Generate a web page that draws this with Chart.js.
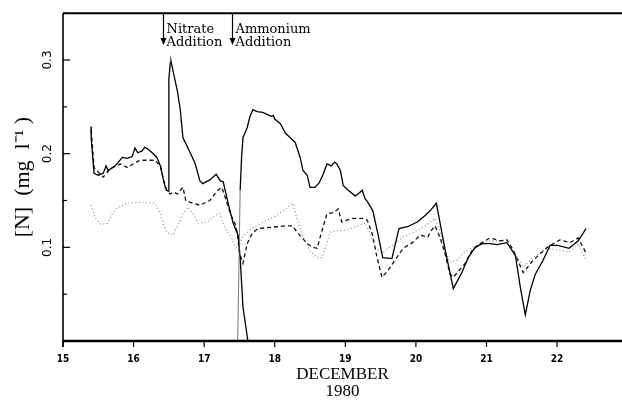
<!DOCTYPE html>
<html><head><meta charset="utf-8">
<script src="https://cdn.jsdelivr.net/npm/chart.js@4/dist/chart.umd.min.js"></script>
<style>html,body{margin:0;padding:0;background:#fff;overflow:hidden}</style>
</head><body>
<canvas id="c" width="622" height="400"></canvas>
<script>
// ---- data (days of December 1980, concentration mg/l) ----
const solidDays = [15.397,15.40,15.44,15.50,15.57,15.61,15.64,15.74,15.84,15.91,15.98,16.02,16.06,16.12,16.16,16.20,16.28,16.33,16.38,16.42,16.45,16.47,16.49,16.50,16.52,16.53,16.56,16.62,16.66,16.70,16.77,16.87,16.94,16.98,17.08,17.17,17.23,17.27,17.34,17.41,17.48,17.51,17.55,17.62,17.62,
  17.475,17.51,17.53,17.55,17.61,17.65,17.69,17.75,17.83,17.89,17.95,17.98,18.00,18.08,18.15,18.22,18.29,18.36,18.40,18.46,18.50,18.57,18.63,18.68,18.74,18.80,18.85,18.88,18.93,18.97,19.04,19.14,19.18,19.24,19.28,19.32,19.39,19.46,19.53,19.66,19.76,19.88,20.02,20.13,20.20,20.29,20.41,20.53,20.65,20.74,20.84,20.94,21.05,21.15,21.29,21.41,21.48,21.55,21.62,21.69,21.80,21.90,22.01,22.17,22.30,22.41];
const solidValues = [0.229,0.216,0.179,0.177,0.179,0.187,0.182,0.187,0.196,0.195,0.197,0.206,0.201,0.203,0.207,0.205,0.200,0.196,0.187,0.173,0.164,0.161,0.160,0.280,0.297,0.299,0.288,0.267,0.248,0.217,0.206,0.190,0.171,0.168,0.172,0.178,0.171,0.170,0.147,0.126,0.113,0.089,0.036,0.000,null,
  0.000,0.161,0.196,0.217,0.228,0.240,0.247,0.245,0.244,0.242,0.240,0.241,0.237,0.232,0.222,0.217,0.212,0.196,0.182,0.177,0.164,0.164,0.169,0.177,0.189,0.187,0.191,0.189,0.182,0.166,0.161,0.155,0.157,0.161,0.152,0.148,0.139,0.115,0.089,0.088,0.120,0.122,0.127,0.134,0.139,0.147,0.099,0.056,0.073,0.089,0.100,0.104,0.104,0.103,0.105,0.091,0.057,0.028,0.054,0.071,0.086,0.102,0.102,0.099,0.107,0.120];

const dashedDays = [15.40,15.44,15.57,15.67,15.81,15.92,15.99,16.09,16.19,16.30,16.38,16.43,16.47,16.52,16.57,16.62,16.70,16.74,16.84,16.94,17.08,17.18,17.25,17.30,17.37,17.44,17.47,17.50,17.55,17.61,17.68,17.76,17.89,18.03,18.17,18.25,18.33,18.46,18.54,18.60,18.67,18.74,18.83,18.90,18.95,19.02,19.11,19.24,19.31,19.38,19.45,19.52,19.61,19.70,19.82,19.95,20.06,20.17,20.20,20.27,20.34,20.41,20.48,20.53,20.70,20.80,20.91,21.05,21.19,21.29,21.38,21.52,21.66,21.86,22.04,22.18,22.30,22.41];
const dashedValues = [0.225,0.185,0.175,0.184,0.189,0.185,0.189,0.193,0.193,0.193,0.187,0.170,0.160,0.157,0.159,0.157,0.164,0.150,0.147,0.145,0.150,0.160,0.164,0.153,0.136,0.125,0.115,0.094,0.083,0.104,0.115,0.120,0.121,0.122,0.123,0.123,0.115,0.104,0.100,0.099,0.118,0.136,0.137,0.141,0.127,0.129,0.131,0.131,0.129,0.115,0.089,0.068,0.076,0.086,0.099,0.105,0.113,0.111,0.116,0.123,0.111,0.094,0.072,0.068,0.083,0.097,0.104,0.110,0.107,0.108,0.097,0.073,0.086,0.100,0.108,0.105,0.110,0.094];

const dottedDays = [15.40,15.45,15.52,15.62,15.70,15.78,15.91,16.02,16.13,16.30,16.38,16.42,16.47,16.56,16.62,16.70,16.77,16.84,16.91,16.99,17.08,17.14,17.22,17.29,17.39,17.44,17.48,17.55,17.69,17.83,17.98,18.12,18.26,18.32,18.40,18.50,18.60,18.67,18.74,18.78,18.88,18.97,19.07,19.18,19.28,19.35,19.42,19.52,19.61,19.70,19.82,19.96,20.09,20.17,20.27,20.34,20.41,20.48,20.58,20.67,20.80,20.94,21.05,21.15,21.26,21.36,21.44,21.52,21.66,21.86,22.04,22.18,22.30,22.41];
const dottedValues = [0.145,0.132,0.125,0.125,0.136,0.143,0.147,0.148,0.148,0.147,0.136,0.126,0.116,0.113,0.123,0.136,0.143,0.136,0.126,0.126,0.129,0.134,0.136,0.121,0.110,0.100,0.099,0.112,0.121,0.127,0.132,0.139,0.147,0.129,0.111,0.096,0.089,0.089,0.104,0.116,0.118,0.118,0.120,0.123,0.126,0.115,0.100,0.094,0.099,0.104,0.111,0.116,0.121,0.125,0.131,0.118,0.099,0.084,0.086,0.094,0.100,0.105,0.107,0.107,0.107,0.099,0.089,0.079,0.089,0.099,0.097,0.095,0.104,0.086];

const xRange = [15, 22.92];
const yRange = [0, 0.35];
const xTitle = ['DECEMBER', '1980'];
const yTitle = '[N]  (mg  l\u207B\u00B9 )';
const additionDays = [16.41, 17.40];
const additionLines = [['Nitrate', 'Addition'], ['Ammonium', 'Addition']];
const arrowTipValue = 0.316;

const pts = (d, v) => d.map((x, i) => ({x, y: v[i]}));
const isMajor = v => Math.abs(v * 10 - Math.round(v * 10)) < 1e-6;
const isRiseFromZero = c => c.p0.parsed.y === 0 && c.p1.parsed.y > 0.1;

const framePlugin = {
  id: 'frame',
  afterDatasetsDraw(chart) {
    const {ctx, chartArea: a, scales: {x, y}} = chart;
    ctx.save();
    ctx.strokeStyle = '#000';
    ctx.lineCap = 'butt';
    ctx.lineWidth = 2;
    ctx.beginPath(); ctx.moveTo(a.left, a.top); ctx.lineTo(a.right, a.top); ctx.stroke();
    ctx.lineWidth = 1.6;
    ctx.beginPath(); ctx.moveTo(a.left, a.top); ctx.lineTo(a.left, a.bottom + 6); ctx.stroke();
    ctx.lineWidth = 2.5;
    ctx.beginPath(); ctx.moveTo(a.left, a.bottom); ctx.lineTo(a.right, a.bottom); ctx.stroke();
    ctx.lineWidth = 1.2;
    x.ticks.forEach(t => {
      const px = x.getPixelForValue(t.value);
      ctx.beginPath(); ctx.moveTo(px, a.bottom); ctx.lineTo(px, a.bottom + 6); ctx.stroke();
    });
    y.ticks.forEach(t => {
      if (t.value < 1e-6) return;
      const py = y.getPixelForValue(t.value);
      const len = isMajor(t.value) ? 7 : 4;
      ctx.beginPath(); ctx.moveTo(a.left, py); ctx.lineTo(a.left + len, py); ctx.stroke();
    });
    const tipY = y.getPixelForValue(arrowTipValue);
    ctx.fillStyle = '#000';
    ctx.font = '13px "DejaVu Serif", serif';
    ctx.textBaseline = 'alphabetic';
    ctx.textAlign = 'left';
    additionDays.forEach((d, i) => {
      const px = Math.round(x.getPixelForValue(d)) + 0.5;
      ctx.lineWidth = 1.2;
      ctx.beginPath(); ctx.moveTo(px, a.top); ctx.lineTo(px, tipY - 5); ctx.stroke();
      ctx.beginPath(); ctx.moveTo(px - 3, tipY - 7); ctx.lineTo(px + 3, tipY - 7); ctx.lineTo(px, tipY); ctx.closePath(); ctx.fill();
      ctx.fillText(additionLines[i][0], px + 3, a.top + 20);
      ctx.fillText(additionLines[i][1], px + 3, a.top + 33);
    });
    ctx.restore();
  }
};

new Chart(document.getElementById('c'), {
  type: 'line',
  data: {
    datasets: [
      {data: pts(solidDays, solidValues), borderColor: '#000', borderWidth: 1.3, spanGaps: false,
        segment: {borderWidth: c => isRiseFromZero(c) ? 0.8 : undefined, borderColor: c => isRiseFromZero(c) ? '#555' : undefined}},
      {data: pts(dashedDays, dashedValues), borderColor: '#111', borderWidth: 1.3, borderDash: [4, 3]},
      {data: pts(dottedDays, dottedValues), borderColor: '#8a8a8a', borderWidth: 1.2, borderDash: [1, 2.5]}
    ]
  },
  options: {
    responsive: false,
    animation: false,
    layout: {padding: {top: 12, right: 0, left: 0, bottom: 0}},
    plugins: {legend: {display: false}, tooltip: {enabled: false}},
    elements: {point: {radius: 0}, line: {tension: 0, fill: false}},
    scales: {
      x: {
        type: 'linear', min: xRange[0], max: xRange[1],
        ticks: {stepSize: 1, includeBounds: false, padding: 12, color: '#000', autoSkip: false, maxRotation: 0,
          font: {family: '"Liberation Sans Narrow", "DejaVu Sans Condensed", "Liberation Sans", sans-serif', size: 10, weight: 'bold'}},
        grid: {display: false, drawTicks: false}, border: {display: false},
        title: {display: true, text: xTitle, color: '#000', padding: {top: 0, bottom: 0},
          font: {family: '"Liberation Serif", serif', size: 17, lineHeight: 1.0}},
        afterFit(s) { s.height = 59; }
      },
      y: {
        type: 'linear', min: yRange[0], max: yRange[1],
        ticks: {stepSize: 0.05, includeBounds: false, autoSkip: false, minRotation: 90, maxRotation: 90,
          crossAlign: 'center', padding: 6, color: '#000',
          font: {family: '"DejaVu Sans", sans-serif', size: 12},
          callback: v => (isMajor(v) && v > 1e-6) ? v.toFixed(1) : ''},
        grid: {display: false, drawTicks: false}, border: {display: false},
        title: {display: true, text: yTitle, color: '#000', padding: {top: 10, bottom: 0},
          font: {family: '"Liberation Serif", serif', size: 22, lineHeight: 1.2}},
        afterFit(s) { s.width = 63; }
      }
    }
  },
  plugins: [framePlugin]
});
</script>
</body></html>
